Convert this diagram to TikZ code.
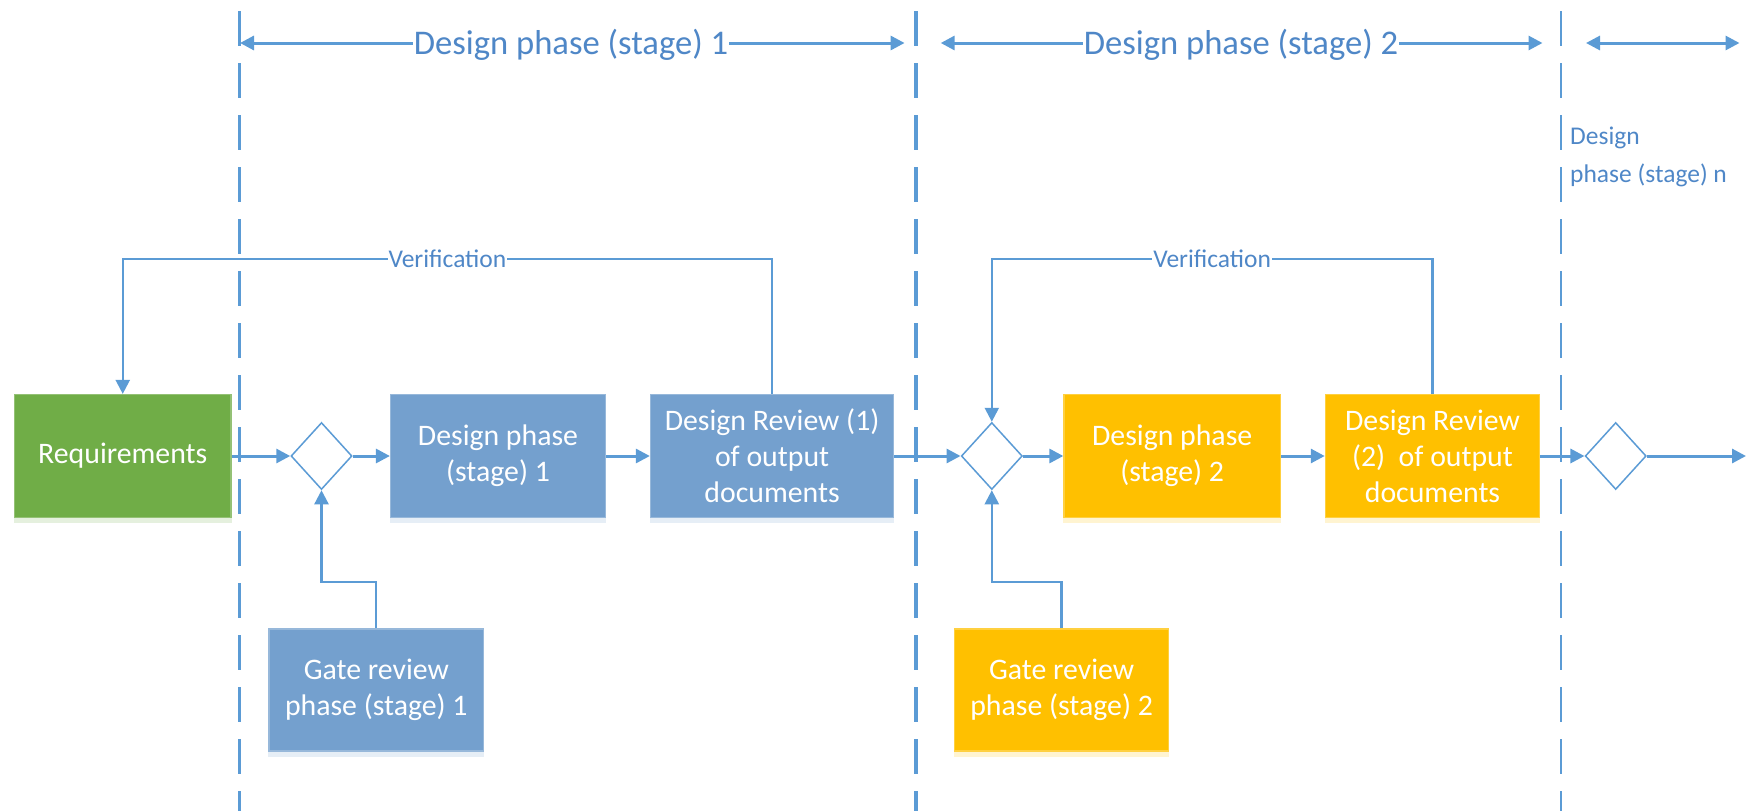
\documentclass[tikz,border=0pt]{standalone}
\usepackage{fontspec}
\setmainfont{Carlito}
\usetikzlibrary{arrows.meta,shapes.geometric,calc}

\definecolor{lineblue}{HTML}{5B9BD5}
\definecolor{textblue}{HTML}{4F87C7}
\definecolor{boxblue}{HTML}{74A0CE}
\definecolor{boxgreen}{HTML}{70AD47}
\definecolor{boxgold}{HTML}{FFC000}

\tikzset{
  tip/.style={-{Triangle[length=14pt,width=14pt]}},
  twotip/.style={{Triangle[length=14pt,width=14pt]}-{Triangle[length=14pt,width=14pt]}},
  stageline/.style={draw=lineblue, line width=3.5pt, dash pattern=on 35pt off 17pt},
  stagelinethin/.style={draw=lineblue, line width=2pt, dash pattern=on 35pt off 17pt},
  span/.style={draw=lineblue, line width=3pt, twotip},
  spanlabel/.style={fill=white, text=textblue, inner xsep=1pt, inner ysep=0pt, anchor=base,
    font=\fontsize{34.6}{41}\selectfont},
  flow/.style={draw=lineblue, line width=3pt, tip},
  loopline/.style={draw=lineblue, line width=2.3pt},
  smalllabel/.style={text=textblue, font=\fontsize{25.5}{38}\selectfont},
  looplabel/.style={smalllabel, fill=white, inner xsep=1pt, inner ysep=0pt},
  box/.style={rectangle, minimum height=123pt, inner sep=0pt, align=center, text=white,
    font=\fontsize{29.8}{36}\selectfont, line width=1.2pt},
  bluebox/.style={box, fill=boxblue, draw=boxblue!75!white},
  greenbox/.style={box, fill=boxgreen, draw=boxgreen!75!white},
  goldbox/.style={box, fill=boxgold, draw=boxgold!75!white},
  gate/.style={diamond, draw=lineblue, line width=1.5pt, fill=white, inner sep=0pt,
    minimum width=61pt, minimum height=67pt},
}

\begin{document}
\begin{tikzpicture}[x=1pt,y=-1pt]
\useasboundingbox (0,0) rectangle (1762,811);

% stage boundaries
\coordinate (b1t) at (239.4,11);  \coordinate (b1b) at (239.4,811);
\coordinate (b2t) at (915.8,11);  \coordinate (b2b) at (915.8,811);
\coordinate (b3t) at (1560.5,11); \coordinate (b3b) at (1560.5,811);
\draw[stageline] (b1t) -- (b1b);
\draw[stageline] (b2t) -- (b2b);
\draw[stagelinethin] (b3t) -- (b3b);

% stage spans
\coordinate (s1l) at (240,43);    \coordinate (s1r) at (904.6,43);
\coordinate (s2l) at (940.7,43);  \coordinate (s2r) at (1542.5,43);
\coordinate (s3l) at (1586,43);   \coordinate (s3r) at (1739.5,43);
\draw[span] (s1l) -- (s1r);
\draw[span] (s2l) -- (s2r);
\draw[span] (s3l) -- (s3r);
\node[spanlabel] (s1t) at (571,54) {Design phase (stage) 1};
\node[spanlabel] (s2t) at (1241,54) {Design phase (stage) 2};
\node[smalllabel, anchor=base west, inner sep=0pt] (snt1) at (1570,144) {Design};
\node[smalllabel, anchor=base west, inner sep=0pt] (snt2) at (1570,182) {phase (stage) n};

% process boxes
\node[greenbox, minimum width=216.5pt] (req) at (122.75,456) {Requirements};
\node[bluebox, minimum width=215pt] (dp1) at (498,456) {Design phase\\(stage) 1};
\node[bluebox, minimum width=243.3pt] (dr1) at (772.1,456) {Design Review (1)\\of output\\documents};
\node[goldbox, minimum width=216.5pt] (dp2) at (1172.2,456) {Design phase\\(stage) 2};
\node[goldbox, minimum width=214.3pt] (dr2) at (1432.5,456) {Design Review\\(2)\ \ of output\\documents};
\node[bluebox, minimum width=214.7pt, minimum height=122pt] (g1) at (376.3,690) {Gate review\\phase (stage) 1};
\node[goldbox, minimum width=214.2pt, minimum height=122pt] (g2) at (1061.6,690) {Gate review\\phase (stage) 2};

% soft bands under the boxes
\foreach \b/\c in {req/boxgreen, dp1/boxblue, dr1/boxblue, dp2/boxgold, dr2/boxgold, g1/boxblue, g2/boxgold}
  \fill[\c!18!white] (\b.south west) rectangle ($(\b.south east)+(0,5)$);

% gates
\node[gate] (d1) at (321.5,456) {};
\node[gate] (d2) at (991.8,456) {};
\node[gate] (d3) at (1615.7,456) {};
\coordinate (out) at (1746,456);

% main flow
\draw[flow] (req.east) -- (d1.west);
\draw[flow] (d1.east) -- (dp1.west);
\draw[flow] (dp1.east) -- (dr1.west);
\draw[flow] (dr1.east) -- (d2.west);
\draw[flow] (d2.east) -- (dp2.west);
\draw[flow] (dp2.east) -- (dr2.west);
\draw[flow] (dr2.east) -- (d3.west);
\draw[flow] (d3.east) -- (out);

% verification loops
\coordinate (vtop) at (0,259);
\draw[loopline, tip] (dr1.north) -- (dr1.north |- vtop)
  -- node[looplabel] (v1) {Verification} (req.north |- vtop) -- (req.north);
\draw[loopline, tip] (dr2.north) -- (dr2.north |- vtop)
  -- node[looplabel] (v2) {Verification} (d2.north |- vtop) -- (d2.north);

% gate reviews feeding the gates
\coordinate (gbend) at (0,582);
\draw[loopline, tip] (g1.north) -- (g1.north |- gbend) -| (d1.south);
\draw[loopline, tip] (g2.north) -- (g2.north |- gbend) -| (d2.south);
\end{tikzpicture}
\end{document}
